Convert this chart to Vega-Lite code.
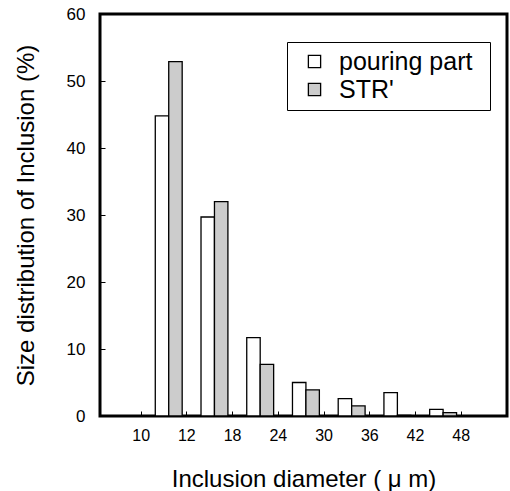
{
  "$schema": "https://vega.github.io/schema/vega-lite/v6.json",
  "autosize": {"type": "none"},
  "padding": {"left": 100, "top": 14, "right": 3, "bottom": 75},
  "width": 407,
  "height": 402,
  "config": {
    "view": {"stroke": "black", "strokeWidth": 3},
    "font": "Liberation Sans",
    "axis": {"labelColor": "black", "titleColor": "black", "tickColor": "black", "grid": false, "domain": false, "titleFontWeight": "normal"}
  },
  "data": {
    "values": [
      {"bin": "10", "series": "pouring part", "value": 44.8},
      {"bin": "10", "series": "STR'", "value": 52.9},
      {"bin": "12", "series": "pouring part", "value": 29.7},
      {"bin": "12", "series": "STR'", "value": 32.0},
      {"bin": "18", "series": "pouring part", "value": 11.7},
      {"bin": "18", "series": "STR'", "value": 7.7},
      {"bin": "24", "series": "pouring part", "value": 5.0},
      {"bin": "24", "series": "STR'", "value": 3.9},
      {"bin": "30", "series": "pouring part", "value": 2.6},
      {"bin": "30", "series": "STR'", "value": 1.5},
      {"bin": "36", "series": "pouring part", "value": 3.5},
      {"bin": "36", "series": "STR'", "value": 0.1},
      {"bin": "42", "series": "pouring part", "value": 1.0},
      {"bin": "42", "series": "STR'", "value": 0.5}
    ]
  },
  "mark": {"type": "bar", "stroke": "black", "strokeWidth": 1.3},
  "encoding": {
    "x": {
      "field": "bin",
      "type": "nominal",
      "sort": null,
      "scale": {"domain": ["10", "12", "18", "24", "30", "36", "42", "48"], "paddingInner": 0, "paddingOuter": 0.45, "align": 1},
      "axis": {"bandPosition": 0, "labelOffset": -22.9, "labelAngle": 0, "tickSize": -5, "labelFontSize": 16, "labelPadding": 16, "title": "Inclusion diameter ( μ m)", "titleFontSize": 24, "titlePadding": 24}
    },
    "xOffset": {
      "field": "series",
      "sort": null,
      "scale": {"domain": ["pouring part", "STR'"], "paddingInner": 0, "paddingOuter": 0.7, "align": 0.75}
    },
    "y": {
      "field": "value",
      "type": "quantitative",
      "scale": {"domain": [0, 60]},
      "axis": {"values": [0, 10, 20, 30, 40, 50, 60], "tickSize": -5, "labelFontSize": 17, "labelPadding": 20, "title": "Size distribution of Inclusion (%)", "titleFontSize": 24, "titlePadding": 28}
    },
    "fill": {
      "field": "series",
      "type": "nominal",
      "scale": {"domain": ["pouring part", "STR'"], "range": ["white", "#cccccc"]},
      "legend": {
        "title": "\u2800",
        "titleOrient": "right",
        "titleFontSize": 1,
        "titlePadding": 10,
        "orient": "none",
        "legendX": 187,
        "legendY": 28,
        "strokeColor": "black",
        "padding": 7,
        "symbolOffset": 8,
        "symbolType": "square",
        "symbolSize": 150,
        "symbolStrokeColor": "black",
        "symbolStrokeWidth": 1.3,
        "labelFontSize": 25,
        "labelColor": "black",
        "labelOffset": 12,
        "rowPadding": 2,
        "labelLimit": 300
      }
    }
  }
}
